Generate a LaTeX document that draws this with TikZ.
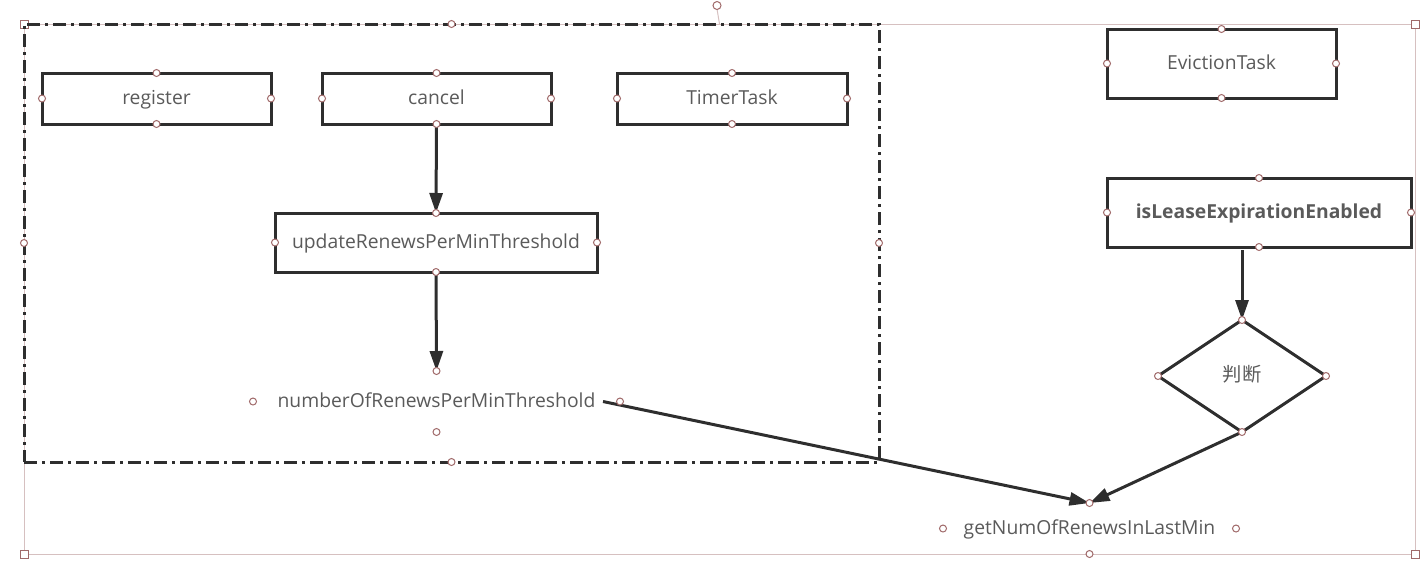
\documentclass[tikz,border=0pt]{standalone}
\usepackage{fontspec}
\setmainfont{Open Sans}
\newfontfamily\cjk{Noto Sans CJK SC}
\usetikzlibrary{arrows.meta,shapes.geometric}

\definecolor{linegray}{HTML}{2E2E2E}
\definecolor{textgray}{HTML}{5A5A5A}
\definecolor{selpink}{HTML}{D6C0C0}
\definecolor{handlebrown}{HTML}{A06A6A}

\newcommand{\handle}[1]{\draw[handlebrown,fill=white,line width=1pt] (#1) circle (3.5pt);}
\newcommand{\handles}[1]{\foreach \a in {north,south,east,west} {\handle{#1.\a}}}
\newcommand{\cornerbox}[1]{\draw[handlebrown,fill=white,line width=1pt] ([shift={(-4pt,-4pt)}]#1) rectangle ++(8pt,8pt);}

\begin{document}
\begin{tikzpicture}[x=1pt,y=-1pt,
  every node/.style={text=textgray,font=\fontsize{19.3}{22}\selectfont,inner sep=0pt,outer sep=0pt,
    text height=14pt,text depth=3pt},
  task/.style={draw=linegray,line width=3pt,minimum width=229pt,minimum height=51pt},
  flow/.style={draw=linegray,line width=3pt,-{Triangle[length=20pt,width=13pt]}},
  textblock/.style={minimum height=61pt}]
\useasboundingbox (0,0) rectangle (1426,566);

% selection frame of the whole drawing
\node (sel) [draw=selpink,line width=1pt,minimum width=1391pt,minimum height=530pt] at (719.5,289) {};
\draw[selpink,line width=1pt] (sel.north) -- ++(-2.5,-15);
\draw[handlebrown,fill=white,line width=1pt] (717,5.5) circle (4pt);
\foreach \c in {north west,north east,south west,south east} {\cornerbox{sel.\c}}

% timer group
\node (timer) [draw=linegray,line width=3pt,dash pattern=on 13pt off 5pt on 3pt off 5pt,
  minimum width=855pt,minimum height=438pt] at (451.5,243) {};
\handles{timer}

\node (register) [task] at (156.5,98.5) {register};
\node (cancel) [task] at (436.5,98.5) {cancel};
\node (timertask) [task,minimum width=230pt] at (732,98.5) {TimerTask};
\node (update) [task,minimum width=322pt,minimum height=59pt] at (436,242.5) {updateRenewsPerMinThreshold};
\node (num) [textblock,minimum width=367pt] at (436.5,401.5) {numberOfRenewsPerMinThreshold};

% eviction side
\node (eviction) [task,minimum height=69pt] at (1221.5,63.5) {EvictionTask};
\node (lease) [task,minimum width=304pt,minimum height=69pt,font=\fontsize{19.3}{22}\selectfont\bfseries] at (1259,212.5) {isLeaseExpirationEnabled};
\node (judge) [diamond,draw=linegray,line width=3pt,minimum width=168pt,minimum height=112pt] at (1242,376) {\cjk 判断};
\node (getnum) [textblock,minimum width=293pt,minimum height=51pt] at (1089.5,528.5) {getNumOfRenewsInLastMin};

\draw[flow] (cancel.south) -- (update.north);
\draw[flow] (update.south) -- (num.north);
\draw[flow,shorten <=3pt] (lease.south -| judge.north) -- (judge.north);
\draw[flow] ([xshift=-17pt]num.east) -- (getnum.north);
\draw[flow] (judge.south) -- (getnum.north);

\foreach \n in {register,cancel,timertask,update,num,eviction,lease,judge,getnum} {\handles{\n}}
\end{tikzpicture}
\end{document}
